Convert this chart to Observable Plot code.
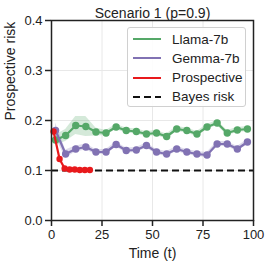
<!DOCTYPE html>
<html><head><meta charset="utf-8">
<script src="https://cdn.jsdelivr.net/npm/d3@7"></script>
<script src="https://cdn.jsdelivr.net/npm/@observablehq/plot@0.6"></script>
<style>
body{margin:0;background:#fff;font-family:"Liberation Sans",Arial,sans-serif;}
#wrap{position:relative;width:270px;height:266px;}
#legend{position:absolute;left:127px;top:27px;width:119px;height:80px;box-sizing:border-box;border:1px solid #d0d0d0;border-radius:3px;background:rgba(255,255,255,0.9);}
.item{position:absolute;left:5px;height:16px;display:flex;align-items:center;font-size:13.5px;color:#222;}
.item svg{margin-right:11px;}
</style></head><body>
<div id="wrap"><div id="chart"></div><div id="legend"></div></div>
<script>
// Time points
const tModel = [2,7,12,17,22,27,32,37,42,47,52,57,62,67,72,77,82,87,92,97];
const llama = [0.161,0.170,0.190,0.188,0.177,0.175,0.187,0.180,0.178,0.173,0.175,0.168,0.183,0.180,0.173,0.187,0.195,0.175,0.181,0.183];
const llamaErr = [0.010,0.012,0.018,0.020,0.008,0.005,0.005,0.005,0.005,0.005,0.005,0.005,0.005,0.005,0.005,0.005,0.005,0.005,0.005,0.005];
const gemma = [0.180,0.133,0.143,0.147,0.137,0.137,0.152,0.140,0.141,0.150,0.137,0.133,0.143,0.137,0.133,0.131,0.153,0.153,0.143,0.157];
const gemmaErr = [0.015,0.008,0.006,0.006,0.005,0.005,0.005,0.005,0.005,0.005,0.005,0.005,0.005,0.005,0.005,0.005,0.005,0.005,0.005,0.005];
const tProsp = [1,4,6.5,9,11.5,14,16.5,19];
const prosp = [0.178,0.123,0.104,0.102,0.102,0.101,0.101,0.101];
const bayesRisk = 0.1;
const seriesNames = ["Llama-7b","Gemma-7b","Prospective","Bayes risk"];
const colors = ["#55a868","#8172b3","#e8191c","#111111"];
const xTicks = [0,25,50,75,100];
const yTicks = [0,0.1,0.2,0.3,0.4];

const rows = (ts, vs, es) => ts.map((t,i)=>({t, v:vs[i], lo:vs[i]-(es?es[i]:0), hi:vs[i]+(es?es[i]:0)}));
const L = rows(tModel, llama, llamaErr);
const G = rows(tModel, gemma, gemmaErr);
const P = rows(tProsp, prosp);

const chart = Plot.plot({
  width:270, height:266,
  marginLeft:51, marginRight:17, marginTop:20, marginBottom:46,
  style:{fontFamily:'"Liberation Sans",Arial,sans-serif', fontSize:"13px", color:"#222", background:"#fff"},
  x:{domain:[0,100], ticks:xTicks, label:null},
  y:{domain:[0,0.4], ticks:yTicks, tickFormat:d3.format(".1f"), label:null},
  marks:[
    Plot.gridX(xTicks.slice(1,-1), {stroke:"#e8e8e8", strokeOpacity:1, strokeWidth:1}),
    Plot.gridY(yTicks.slice(1,-1), {stroke:"#e8e8e8", strokeOpacity:1, strokeWidth:1}),
    Plot.areaY(L, {x:"t", y1:"lo", y2:"hi", fill:colors[0], fillOpacity:0.25}),
    Plot.areaY(G, {x:"t", y1:"lo", y2:"hi", fill:colors[1], fillOpacity:0.25}),
    Plot.ruleY([bayesRisk], {stroke:colors[3], strokeWidth:2, strokeDasharray:"7,4"}),
    Plot.line(L, {x:"t", y:"v", stroke:colors[0], strokeWidth:2.2}),
    Plot.dot(L, {x:"t", y:"v", fill:colors[0], r:3.7}),
    Plot.line(G, {x:"t", y:"v", stroke:colors[1], strokeWidth:2.2}),
    Plot.dot(G, {x:"t", y:"v", fill:colors[1], r:3.7}),
    Plot.line(P, {x:"t", y:"v", stroke:colors[2], strokeWidth:2.2}),
    Plot.dot(P, {x:"t", y:"v", fill:colors[2], r:3.2}),
    Plot.frame({stroke:"#222", strokeWidth:1.5}),
    Plot.axisX({ticks:xTicks, tickSize:6, tickPadding:3, fontSize:13, label:null, strokeWidth:1.5}),
    Plot.axisY({ticks:yTicks, tickSize:6, tickPadding:3, fontSize:13, tickFormat:d3.format(".1f"), label:null, strokeWidth:1.5}),
    Plot.text(["Scenario 1 (p=0.9)"], {frameAnchor:"top", lineAnchor:"bottom", dy:-3, fontSize:14, fill:"#222"}),
    Plot.text(["Time (t)"], {frameAnchor:"bottom", lineAnchor:"middle", dy:33, fontSize:14, fill:"#222"}),
    Plot.text(["Prospective risk"], {frameAnchor:"left", lineAnchor:"middle", dx:-41, rotate:-90, fontSize:14, fill:"#222"})
  ]
});
document.getElementById("chart").appendChild(chart);

const leg = document.getElementById("legend");
seriesNames.forEach((name,i)=>{
  const d = document.createElement("div");
  d.className = "item";
  d.style.top = (3 + i*19.3) + "px";
  const dash = i===3 ? ' stroke-dasharray="7,4"' : '';
  d.innerHTML = `<svg width="28" height="6"><line x1="0" x2="28" y1="3" y2="3" stroke="${colors[i]}" stroke-width="2"${dash}/></svg><span>${name}</span>`;
  leg.appendChild(d);
});
</script>
</body></html>
